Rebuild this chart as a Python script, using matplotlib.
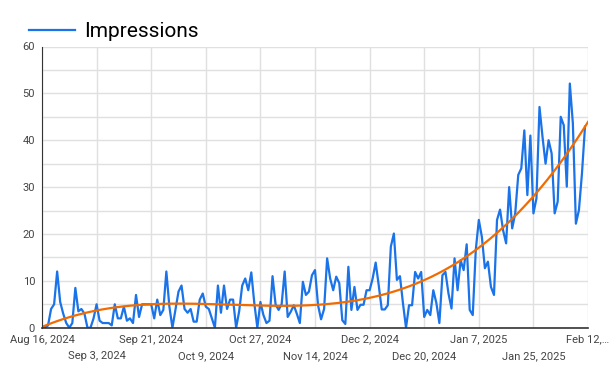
import numpy as np
import matplotlib
matplotlib.use("Agg")
import matplotlib.pyplot as plt

# daily impressions, Aug 16, 2024 onwards
impressions = [
    0, 0, 0.5, 4, 5, 12, 5.5, 3, 1, 0,
    1, 8.5, 3.5, 4, 3, 0, 0, 2, 5, 1.5,
    1, 1, 1, 0.5, 5, 2, 2, 4.5, 1.5, 2,
    1, 7, 2.3, 5, 5, 5, 5, 2, 6, 2.7,
    3.8, 12, 4.5, 0, 3.8, 7.7, 9, 4, 3.2, 4,
    1.3, 1.3, 6, 7.3, 4.5, 4, 2, 0, 9, 3.2,
    9, 4, 6, 6, 0, 3.5, 9, 10.5, 8, 11.8,
    5.2, 0, 5.5, 2.7, 1, 1.5, 11, 5, 3.8, 5,
    12, 2.3, 3.4, 4.8, 3, 1, 9.8, 7, 7.7, 11.2,
    12.3, 4.8, 1.8, 4, 14.8, 10.5, 8, 10.9, 9.5, 1.6,
    0.8, 13, 3.8, 8.7, 3.8, 4.9, 4.9, 8, 8, 10.5,
    13.9, 9.1, 3.9, 3.9, 4.8, 17.3, 20.1, 10.2, 11, 5.2,
    0, 4.8, 4.8, 11.9, 10.5, 11.9, 2.3, 3.8, 2.7, 8,
    5.3, 1, 11.2, 11.9, 7.3, 4.1, 14.8, 8, 14.4, 12.3,
    17.8, 3.8, 2.7, 16.6, 23, 19.4, 12.7, 14.1, 8.7, 7,
    23, 25.2, 20.8, 18, 30, 21.2, 24.4, 32.6, 34, 42.1,
    28.3, 41, 24.4, 27.6, 47.1, 40.7, 35, 40, 37.2, 24.4,
    26.9, 45, 43.2, 30.1, 52.1, 43.6, 22.2, 25.1, 32.9, 42.9,
]
start = np.datetime64('2024-08-16')
tick_labels = ['Aug 16, 2024', 'Sep 3, 2024', 'Sep 21, 2024', 'Oct 9, 2024',
               'Oct 27, 2024', 'Nov 14, 2024', 'Dec 2, 2024', 'Dec 20, 2024',
               'Jan 7, 2025', 'Jan 25, 2025', 'Feb 12,\u2026']

plt.rcParams['font.family'] = ['Roboto', 'DejaVu Sans']

days = np.arange(len(impressions))
dates = start + days.astype('timedelta64[D]')

# cubic trend line fitted to the data
coef = np.polyfit(days, impressions, 3)
trend_days = np.linspace(0, 180, 300)
trend_dates = start + (trend_days * 86400).astype('timedelta64[s]')
trend = np.polyval(coef, trend_days)

fig = plt.figure(figsize=(6.11, 3.72), dpi=100)
ax = fig.add_axes([0.0687, 0.119, 0.8937, 0.756])

ax.plot(dates, impressions, color='#1a73e8', linewidth=1.6, label='Impressions')
ax.plot(trend_dates, trend, color='#f26b00', linewidth=1.6)

tick_dates = start + (np.arange(11) * 18).astype('timedelta64[D]')
# alternate labels on two rows
ax.set_xticks(tick_dates[::2])
ax.set_xticklabels(tick_labels[::2])
ax.set_xticks(tick_dates[1::2], minor=True)
ax.set_xticklabels(tick_labels[1::2], minor=True)
ax.set_xlim(start, start + np.timedelta64(180, 'D'))
ax.set_ylim(0, 60)
ax.set_yticks(np.arange(0, 61, 10))
ax.set_yticks(np.arange(0, 61, 5), minor=True)
ax.tick_params(axis='both', which='both', length=0, labelsize=8, colors='#444444', pad=5)
ax.tick_params(axis='x', which='minor', pad=17)
ax.grid(True, which='both', color='#e0e0e0', linewidth=1)
ax.set_axisbelow(True)
for s in ['top', 'right']:
    ax.spines[s].set_visible(False)
ax.spines['left'].set_color('#333333')
ax.spines['bottom'].set_color('#333333')
ax.spines['bottom'].set_linewidth(1.2)

fig.legend(loc='upper left', bbox_to_anchor=(0.017, 0.99), frameon=False,
           fontsize=15, handlelength=2.2, handletextpad=0.45)

fig.savefig('out.png', dpi=100)
